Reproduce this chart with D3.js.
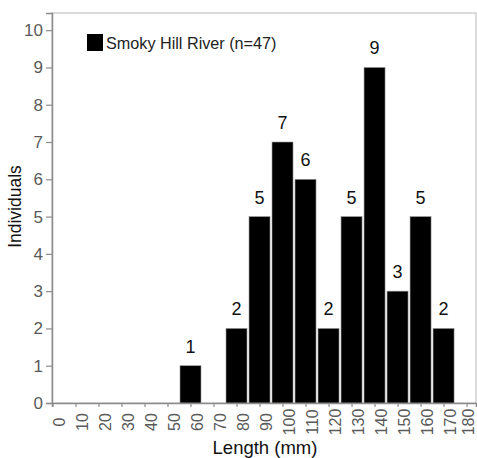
<!DOCTYPE html>
<html>
<head>
<meta charset="utf-8">
<script src="https://cdn.jsdelivr.net/npm/d3@7"></script>
<style>
  html, body { margin: 0; padding: 0; background: #fff; }
  svg { display: block; font-family: "Liberation Sans", Arial, sans-serif; }
</style>
</head>
<body>
<svg id="chart" width="477" height="458"></svg>
<script>
// ---- Data ----
const lengthBins = [0, 10, 20, 30, 40, 50, 60, 70, 80, 90, 100, 110, 120, 130, 140, 150, 160, 170, 180];
const individuals = [0, 0, 0, 0, 0, 0, 1, 0, 2, 5, 7, 6, 2, 5, 9, 3, 5, 2, 0];
const yTicks = [0, 1, 2, 3, 4, 5, 6, 7, 8, 9, 10];
const seriesName = "Smoky Hill River (n=47)";
const xTitle = "Length (mm)";
const yTitle = "Individuals";

(function () {
// ---- Layout ----
const svg = d3.select("#chart");
const W = 477;
const pL = 52, pR = 476, pT = 13, pB = 403;

const x = d3.scaleLinear().domain([-0.2, 184.1]).range([pL, pR]);
const y = d3.scaleLinear().domain([0, 10.46]).range([pB, pT]);
const step = x(10) - x(0);
const barW = step - 2;

// frame
svg.append("rect")
  .attr("x", pL).attr("y", pT)
  .attr("width", pR - pL).attr("height", pB - pT)
  .attr("fill", "none").attr("stroke", "#c4c4c4").attr("stroke-width", 1.2);

// bars
const data = lengthBins.map((b, i) => ({ bin: b, v: individuals[i] }));
svg.append("g").selectAll("rect")
  .data(data.filter(d => d.v > 0))
  .join("rect")
  .attr("x", d => x(d.bin) - barW / 2)
  .attr("y", d => y(d.v))
  .attr("width", barW)
  .attr("height", d => y(0) - y(d.v))
  .attr("fill", "#000")
  .attr("stroke", "#9a9a9a")
  .attr("stroke-width", 0.6);

// bar value labels
svg.append("g").selectAll("text")
  .data(data.filter(d => d.v > 0))
  .join("text")
  .attr("x", d => x(d.bin))
  .attr("y", d => y(d.v) - 13)
  .attr("text-anchor", "middle")
  .attr("font-size", 18)
  .attr("fill", "#111")
  .text(d => d.v);

// y axis
const yAxis = d3.axisLeft(y).tickValues(yTicks).tickSize(6).tickPadding(3).tickFormat(d3.format("d"));
const gy = svg.append("g").attr("transform", `translate(${pL},0)`).call(yAxis);
gy.select(".domain").attr("stroke", "#8c8c8c").attr("stroke-width", 1.5);
gy.selectAll(".tick line").attr("stroke", "#8c8c8c").attr("stroke-width", 1.2);
gy.selectAll(".tick text")
  .attr("font-size", 17).attr("fill", "#5a5a5a")
  .attr("font-family", "Liberation Sans, Arial, sans-serif");

// x axis
const xFont = 16;
const xAxis = d3.axisBottom(x).tickValues(lengthBins).tickSize(4).tickFormat(d3.format("d"));
const gx = svg.append("g").attr("transform", `translate(0,${pB})`).call(xAxis);
gx.select(".domain").attr("stroke", "#8c8c8c").attr("stroke-width", 1.5);
gx.selectAll(".tick line").attr("stroke", "#8c8c8c").attr("stroke-width", 1.2);
gx.selectAll(".tick text")
  .attr("font-size", xFont).attr("fill", "#5a5a5a")
  .attr("font-family", "Liberation Sans, Arial, sans-serif")
  .attr("text-anchor", "middle")
  .attr("x", 0).attr("y", 0)
  .attr("transform", d => {
    const off = Math.min(6, (W - 1 - xFont / 2) - x(d));
    return `translate(${off},19) rotate(-90)`;
  })
  .attr("dy", "0.36em");

// legend
svg.append("rect")
  .attr("x", 87).attr("y", 34).attr("width", 16).attr("height", 17)
  .attr("fill", "#000");
svg.append("text")
  .attr("x", 106).attr("y", 49)
  .attr("font-size", 16.2).attr("fill", "#222")
  .text(seriesName);

// axis titles
svg.append("text")
  .attr("x", 265).attr("y", 453.5)
  .attr("text-anchor", "middle")
  .attr("font-size", 18.5).attr("fill", "#111")
  .text(xTitle);

svg.append("text")
  .attr("transform", "translate(21,206.5) rotate(-90)")
  .attr("text-anchor", "middle")
  .attr("font-size", 17.5).attr("fill", "#111")
  .text(yTitle);
})();
</script>
</body>
</html>
